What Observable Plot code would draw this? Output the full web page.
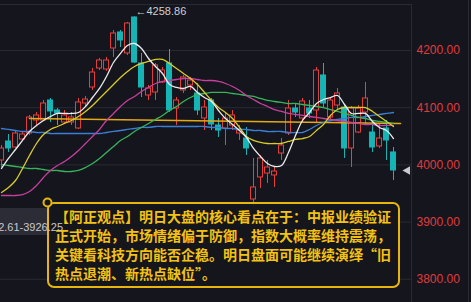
<!DOCTYPE html>
<html lang="zh-CN"><head><meta charset="utf-8">
<script src="https://cdn.jsdelivr.net/npm/d3@7"></script>
<script src="https://cdn.jsdelivr.net/npm/@observablehq/plot@0.6"></script>
<style>
html,body{margin:0;padding:0;background:#15151d;}
#chart{position:relative;width:471px;height:302px;overflow:hidden;}
</style></head><body><div id="chart"></div>
<script>
const opens  = [4007.7,4040.9,4030.4,4044.4,4054.9,4077.6,4077.6,4112.6,4095.1,4074.1,4074.1,4063.6,4107.3,4135.3,4168.5,4166.8,4203.5,4231.5,4194.8,4257.7,4177.3,4121.3,4126.6,4144.1,4177.3,4098.6,4130.1,4138.8,4124.8,4081.1,4112.6,4068.9,4063.6,4068.9,4054.9,4046.1,3939.5,3978.0,3984.9,3981.5,4019.9,4054.9,4098.6,4081.1,4098.6,4095.1,4156.3,4082.9,4103.8,4100.3,4028.7,4056.6,4091.6,4056.6,4032.2,4063.6,4021.7];
const highs  = [4033.9,4053.1,4060.1,4058.4,4086.4,4091.6,4112.6,4116.1,4098.6,4095.1,4091.6,4116.1,4119.6,4168.5,4186.0,4187.8,4235.0,4235.0,4249.0,4258.86,4194.8,4138.8,4177.3,4170.3,4201.7,4117.8,4156.3,4152.8,4142.3,4112.6,4116.1,4081.1,4089.9,4095.1,4068.9,4065.4,4011.2,4016.4,4007.7,3995.4,4046.1,4112.6,4107.3,4116.1,4112.6,4170.3,4177.3,4116.1,4133.6,4103.8,4102.1,4103.8,4144.1,4074.1,4072.4,4077.6,4030.4];
const lows   = [3995.4,4021.7,4028.7,4042.7,4051.4,4068.9,4075.9,4074.1,4068.9,4072.4,4068.9,4061.9,4102.1,4130.1,4165.0,4163.3,4187.8,4205.2,4191.3,4177.3,4117.8,4112.6,4112.6,4142.3,4091.6,4068.9,4124.8,4130.1,4086.4,4060.1,4060.1,4047.9,4033.9,4060.1,4042.7,4016.4,3926.25,3958.7,3967.5,3960.5,4007.7,4051.4,4082.9,4074.1,4081.1,4072.4,4098.6,4077.6,4095.1,4011.2,3995.4,4054.9,4068.9,4021.7,4028.7,4007.7,3972.7];
const closes = [4028.7,4028.7,4054.9,4053.1,4082.9,4086.4,4107.3,4093.4,4089.9,4086.4,4082.9,4109.1,4114.3,4161.5,4182.5,4182.5,4229.7,4217.5,4247.2,4179.0,4135.3,4133.6,4173.8,4165.0,4095.1,4112.6,4152.8,4147.5,4095.1,4100.3,4070.6,4060.1,4081.1,4086.4,4060.1,4028.7,3960.5,4011.2,3995.4,3988.4,4033.9,4098.6,4091.6,4110.8,4089.9,4165.0,4107.3,4112.6,4124.8,4028.7,4098.6,4098.6,4116.1,4030.4,4046.1,4042.7,3990.2];

const ma5  = [3993.7,4011.2,4026.9,4042.7,4058.4,4068.9,4077.6,4084.6,4089.9,4089.9,4089.9,4091.6,4102.1,4117.8,4133.6,4154.5,4179.0,4194.8,4208.7,4212.2,4203.5,4186.0,4172.0,4159.8,4140.6,4135.3,4133.6,4137.1,4126.6,4117.8,4110.8,4095.1,4081.1,4070.6,4060.1,4047.9,4028.7,4014.7,4002.4,3997.2,3998.9,4021.7,4051.4,4077.6,4091.6,4107.3,4114.3,4117.8,4121.3,4105.6,4089.9,4089.9,4089.9,4075.9,4065.4,4060.1,4046.1];
const ma10 = [3951.7,3960.5,3972.7,3993.7,4016.4,4037.4,4053.1,4061.9,4067.1,4072.4,4077.6,4084.6,4093.4,4103.8,4116.1,4128.3,4140.6,4152.8,4163.3,4172.0,4177.3,4180.8,4184.3,4184.3,4177.3,4168.5,4159.8,4151.0,4140.6,4126.6,4112.6,4100.3,4091.6,4081.1,4065.4,4049.6,4042.7,4039.2,4037.4,4037.4,4037.4,4040.9,4044.4,4046.1,4049.6,4060.1,4070.6,4086.4,4096.8,4100.3,4100.3,4100.3,4100.3,4093.4,4084.6,4075.9,4067.1];
const ma20 = [3946.5,3946.5,3946.5,3948.2,3953.5,3964.0,3978.0,3990.2,3998.9,4005.9,4014.7,4025.2,4037.4,4049.6,4061.9,4077.6,4089.9,4102.1,4112.6,4119.6,4128.3,4135.3,4142.3,4145.8,4147.5,4149.3,4151.0,4151.0,4149.3,4147.5,4147.5,4145.8,4142.3,4137.1,4130.1,4121.3,4114.3,4107.3,4102.1,4096.8,4093.4,4089.9,4088.1,4086.4,4084.6,4082.9,4081.1,4079.4,4077.6,4075.9,4074.1,4072.4,4070.6,4070.6,4068.9,4068.9,4068.9];
const ma30 = [4000.7,3998.9,3997.2,3995.4,3993.7,3993.7,3991.9,3990.2,3990.2,3988.4,3988.4,3990.2,3995.4,4002.4,4011.2,4021.7,4032.2,4042.7,4049.6,4058.4,4065.4,4072.4,4079.4,4086.4,4095.1,4102.1,4110.8,4117.8,4123.1,4124.8,4126.6,4126.6,4126.6,4124.8,4123.1,4121.3,4119.6,4116.1,4112.6,4110.8,4109.1,4107.3,4107.3,4105.6,4103.8,4102.1,4100.3,4096.8,4093.4,4089.9,4086.4,4082.9,4081.1,4077.6,4075.9,4074.1,4072.4];
const ma60 = [4063.6,4061.9,4060.1,4058.4,4058.4,4056.6,4056.6,4054.9,4054.9,4054.9,4054.9,4054.9,4054.9,4054.9,4054.9,4056.6,4058.4,4060.1,4061.9,4063.6,4065.4,4065.4,4067.1,4067.1,4067.1,4067.1,4067.1,4067.1,4067.1,4067.1,4065.4,4065.4,4063.6,4063.6,4061.9,4061.9,4060.1,4060.1,4058.4,4058.4,4058.4,4056.6,4056.6,4056.6,4061.9,4068.9,4074.1,4077.6,4079.4,4081.1,4082.9,4082.9,4084.6,4086.4,4088.1,4089.9,4091.6];

const trendIdx = [4, 57];
const trendVal = [4081.1, 4072.4];

const yTicks = [3800, 3900, 4000, 4100, 4200];
const highLabelIdx = 19;
const rangeLabel = "4262.61-3926.25";
const noteLines = [
  "【阿正观点】明日大盘的核心看点在于：中报业绩验证",
  "正式开始，市场情绪偏于防御，指数大概率维持震荡，",
  "关键看科技方向能否企稳。明日盘面可能继续演绎“旧",
  "热点退潮、新热点缺位”。"
];

const bg = "#15151d", red = "#e8403f", teal = "#17b4b6", grid = "#2a2a34";
const candles = opens.map((o, i) => ({i, open: o, high: highs[i], low: lows[i], close: closes[i]}));
const upC = candles.filter(d => d.close >= d.open);
const dnC = candles.filter(d => d.close < d.open);
const maSeries = [
  {values: ma60, color: "#3a7fd5"},
  {values: ma30, color: "#37b45a"},
  {values: ma20, color: "#c8409e"},
  {values: ma10, color: "#d9cb2a"},
  {values: ma5,  color: "#ededed"}
];
const trend = trendIdx.map((i, k) => ({i, v: trendVal[k]}));

const chart = Plot.plot({
  width: 471, height: 302,
  marginTop: 4, marginBottom: 0, marginLeft: 0, marginRight: 60,
  style: {background: bg, fontFamily: "'Liberation Sans', Arial, sans-serif", overflow: "hidden"},
  x: {domain: [-1/7, 410/7], axis: null},
  y: {domain: [3759.4, 4280.4], axis: null},
  marks: [
    Plot.gridY(yTicks, {stroke: grid, strokeOpacity: 1}),
    Plot.frame({anchor: "top", stroke: grid, strokeOpacity: 1}),
    Plot.frame({anchor: "right", stroke: grid, strokeOpacity: 1}),
    Plot.axisY(yTicks, {anchor: "right", tickSize: 0, tickPadding: 5, textAnchor: "start",
      tickFormat: d => d.toFixed(2), fill: "#e03b3d", fontSize: 12}),
    Plot.ruleX(upC, {x: "i", y1: "low", y2: "high", stroke: red, strokeWidth: 1}),
    Plot.ruleX(dnC, {x: "i", y1: "low", y2: "high", stroke: teal, strokeWidth: 1}),
    Plot.rect(upC, {x1: d => d.i - 0.36, x2: d => d.i + 0.36, y1: "open", y2: "close", fill: bg, stroke: red, strokeWidth: 1}),
    Plot.rect(dnC, {x1: d => d.i - 0.36, x2: d => d.i + 0.36, y1: "open", y2: "close", fill: teal, stroke: teal, strokeWidth: 1}),
    Plot.line(trend, {x: "i", y: "v", stroke: "#e3a916", strokeWidth: 1.5}),
    ...maSeries.map(s => Plot.line(s.values.map((v, i) => ({i, v})), {x: "i", y: "v", stroke: s.color, strokeWidth: 1.3, curve: "catmull-rom"})),
    Plot.text([candles[highLabelIdx]], {x: "i", y: "high", text: d => "←" + d.high.toFixed(2), textAnchor: "start", dx: 1, dy: -5, fill: "#cfcfd4", fontSize: 11}),
    Plot.dot([candles[candles.length - 1]], {x: () => 58, y: "close", symbol: "triangle", rotate: -90, r: 3.2, fill: "#c9c9d0", stroke: "none"})
  ]
});
document.getElementById("chart").appendChild(chart);

const svg = d3.select(chart);
svg.append("line").attr("x1", 468.5).attr("x2", 468.5).attr("y1", 0).attr("y2", 302).attr("stroke", grid);
svg.append("rect").attr("x", -2).attr("y", 208).attr("width", 52).attr("height", 27).attr("fill", "#2c2c36");
const g = svg.append("g").attr("text-anchor", "start");
g.append("rect").attr("x", 48).attr("y", 203).attr("width", 351).attr("height", 84).attr("rx", 6)
  .attr("fill", bg).attr("fill-opacity", 0.94).attr("stroke", "#e6b60e").attr("stroke-width", 2);
g.append("circle").attr("cx", 47.5).attr("cy", 202.5).attr("r", 4).attr("fill", bg).attr("stroke", "#e6b60e").attr("stroke-width", 2);
svg.append("text").attr("x", 63).attr("y", 231).attr("text-anchor", "end")
  .attr("fill", "#c8c8cc").attr("font-size", 11).attr("font-family", "'Liberation Sans', Arial, sans-serif").text(rangeLabel);
noteLines.forEach((t, k) => {
  g.append("text").attr("x", 55).attr("y", 215.5 + 19 * k).attr("dominant-baseline", "central")
    .attr("text-anchor", "start")
    .attr("fill", "#f2c214").attr("font-size", 14).attr("font-weight", "bold")
    .attr("font-family", "'Noto Sans CJK SC', sans-serif").text(t);
});
</script>
</body></html>
